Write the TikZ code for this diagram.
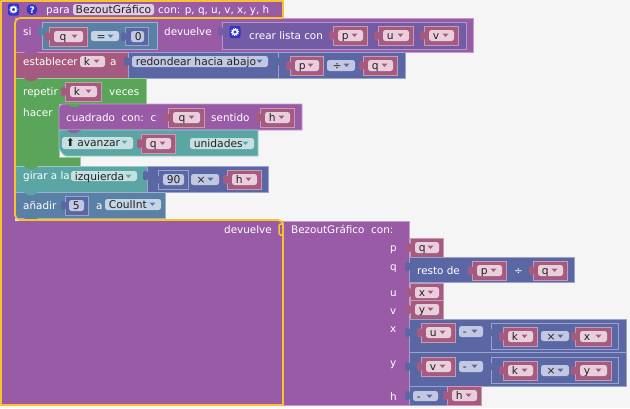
\documentclass[tikz,border=0pt]{standalone}
\usepackage{fontspec}
\setmainfont{DejaVu Sans}
\definecolor{bgc}{HTML}{F5F5F5}
\definecolor{pur}{HTML}{995BA5}\definecolor{purL}{HTML}{C29ACB}\definecolor{purF}{HTML}{E0CDE4}
\definecolor{red}{HTML}{A55B80}\definecolor{redL}{HTML}{CB9AB2}\definecolor{redF}{HTML}{E9CFDB}
\definecolor{tea}{HTML}{5BA5A5}\definecolor{teaL}{HTML}{9ACBCB}\definecolor{teaF}{HTML}{C5E0E0}
\definecolor{blu}{HTML}{5B80A5}\definecolor{bluL}{HTML}{9AB2CB}\definecolor{bluF}{HTML}{C5D5E5}
\definecolor{ind}{HTML}{5B67A5}\definecolor{indL}{HTML}{9AA3CB}\definecolor{indF}{HTML}{C3C8E2}
\definecolor{lis}{HTML}{745BA5}\definecolor{lisL}{HTML}{AB9ACB}
\definecolor{gre}{HTML}{5BA55B}\definecolor{greL}{HTML}{9ACB9A}
\definecolor{yel}{HTML}{F9C32B}
\definecolor{ink}{HTML}{222222}
\definecolor{ico}{HTML}{3232CC}
\newcounter{tn}
\tikzset{lbl/.style={anchor=base west,inner sep=0pt,font=\fontsize{10.4}{13}\selectfont},
 fldtxt/.style={lbl,font=\fontsize{10.7}{13}\selectfont}}
% text: colour x baseline text
\newcommand\lab[4]{\stepcounter{tn}\node[lbl,text=#1] (t\the\value{tn}) at (#2,#3) {#4};}
% block: colour x1 y1 x2 y2
\newcommand\blk[5]{\path[fill=#1,draw=#1L,line width=.8pt] (#2,#3) rectangle (#4,#5);}
% tab: colour x y
\newcommand\tabb[3]{\fill[#1,rounded corners=1.5pt] (#2-4,#3) rectangle (#2+1,#3+9);}
% field with drop-down: tricolour fillcolour x1 y1 x2 y2 text
\newcommand\fldn[6]{\fill[#1,rounded corners=2.5pt] (#2,#3) rectangle (#4,#5);\stepcounter{tn}\node[fldtxt,text=ink] (t\the\value{tn}) at (#2+3.7,#3+9) {#6};}
\newcommand\fld[7]{\fldn{#2}{#3}{#4}{#5}{#6}{#7}\fill[#1] (#5-11.5,#4+3.5) -- (#5-5.5,#4+3.5) -- (#5-8.5,#4+7) -- cycle;}
% variable block: x1 x2 y text
\newcommand\varb[4]{\blk{red}{#1}{#3}{#2}{#3+19}\tabb{red}{#1}{#3+5}\fld{red}{redF}{#1+5}{#3+4}{#2-4}{#3+15}{#4}}
% notch
\newcommand\notch[3]{\fill[#1] (#2,#3) -- (#2+4,#3+3) -- (#2+10,#3+3) -- (#2+14,#3) -- cycle;}
% gear icon
\newcommand\gear[2]{\fill[ico,rounded corners=2pt] (#1-5.5,#2-6) rectangle (#1+5.5,#2+6);
 \draw[white,line width=1.5pt] (#1,#2) circle (2.4pt);
 \draw[white,line width=1.1pt,dash pattern=on 1.1pt off 1.1pt] (#1,#2) circle (3.6pt);}
\begin{document}
\begin{tikzpicture}[x=1pt,y=-1pt]
\useasboundingbox (0,0) rectangle (630,408);
\fill[bgc] (0,0) rectangle (630,408);
% main definition block
\fill[pur] (0,0) -- (283,0) -- (283,18) -- (15,18) -- (15,221) -- (283,221) -- (283,405) -- (0,405) -- cycle;
\gear{13.5}{9.5}
\fill[ico] (32,9.5) circle (5.5pt);
\lab{white}{29.5}{13}{\fontsize{9}{9}\selectfont\bfseries ?}
\lab{white}{46}{13.5}{para}
\fill[purF,rounded corners=2.5pt] (73,4) rectangle (154,15);
\node[fldtxt,text=ink] (title) at (75.5,13.5) {BezoutGráfico};
\lab{white}{158}{13.5}{con: p, q, u, v, x, y, h}
% si
\blk{pur}{15}{18}{473}{52}
\lab{white}{23}{35}{si}
\blk{blu}{42}{22}{157}{49}\tabb{blu}{42}{27}
\varb{49}{87}{27}{\,q}
\fld{blu}{bluF}{91}{31}{119}{41}{\,=}
\blk{ind}{125}{27}{148}{45}\tabb{ind}{125}{32}
\fldn{indF}{131}{31}{144}{42}{0}
\lab{white}{164}{35}{devuelve}
\blk{lis}{222}{22}{466}{49}\tabb{lis}{222}{27}
\gear{235}{32}
\lab{white}{249}{39}{crear lista con}
\varb{333}{367}{26}{p}
\varb{378}{413}{26}{u}
\varb{424}{458}{26}{v}
% establecer
\blk{red}{15}{52}{128}{78}
\notch{pur}{24}{52}
\lab{white}{23}{65}{establecer}
\fld{red}{redF}{80}{56}{105}{67}{k}
\lab{white}{110}{65}{a}
\blk{ind}{128}{52}{405}{78}\tabb{ind}{128}{57}
\fld{ind}{indF}{132}{56}{268}{67}{redondear hacia abajo}
\blk{ind}{278}{52}{405}{78}\tabb{ind}{278}{57}
\varb{290}{323}{56}{p}
\fld{ind}{indF}{327}{60}{355}{71}{\,÷}
\varb{363}{397}{56}{q}
% repetir
\path[fill=gre,draw=greL,line width=.8pt] (15,78) -- (146,78) -- (146,104) -- (59,104) -- (59,157) -- (80,157) -- (80,166) -- (15,166) -- cycle;
\notch{red}{24}{78}
\lab{white}{23}{95}{repetir}
\varb{65}{101}{82}{k}
\lab{white}{109}{95}{veces}
\lab{white}{23}{116}{hacer}
% cuadrado
\path[fill=pur,draw=purL,line width=.8pt] (59,130) -- (59,108) to[out=90,in=180] (63,104) -- (302,104) -- (302,130) -- cycle;
\notch{gre}{67}{104}
\lab{white}{66}{121}{cuadrado\ \ con:\ \ c}
\varb{168}{204}{108}{\,q}
\lab{white}{211}{121}{sentido}
\varb{260}{294}{108}{h}
% avanzar
\path[fill=tea,draw=teaL,line width=.8pt] (59,130) -- (258,130) -- (258,156) -- (66,156) to[out=180,in=90] (59,150) -- cycle;
\notch{pur}{67}{130}
\fld{tea}{teaF}{62}{137}{133}{149}{⬆\kern-1pt\ avanzar}
\varb{141}{175}{134}{q}
\fld{tea}{teaF}{190}{138}{254}{149}{unidades}
% girar
\blk{tea}{15}{166}{147}{192}
\notch{gre}{24}{166}
\lab{white}{23}{179}{girar a la}
\fld{tea}{teaF}{71}{171}{137}{181}{izquierda}
\blk{ind}{147}{166}{268}{192}\tabb{ind}{147}{171}
\blk{ind}{158}{170}{188}{189}\tabb{ind}{158}{175}
\fldn{indF}{163}{174}{184}{185}{90}
\fld{ind}{indF}{191}{174}{219}{185}{\,×}
\varb{227}{261}{170}{h}
% anadir
\path[fill=blu,draw=bluL,line width=.8pt] (15,192) -- (165,192) -- (165,218) -- (15,218) -- cycle;
\notch{tea}{24}{192}
\lab{white}{23}{209}{añadir}
\blk{ind}{65}{196}{88}{215}\tabb{ind}{65}{201}
\fldn{indF}{69}{200}{84}{211}{5}
\lab{white}{96}{209}{a}
\fld{blu}{bluF}{105}{199}{161}{210}{CoulInt}
\notch{blu}{24}{218}
% return
\lab{white}{224}{233}{devuelve}
% call block
\blk{pur}{283}{221}{409}{405}
\lab{white}{291}{233}{BezoutGráfico\ \ con:}
\lab{white}{390}{251}{p}
\lab{white}{390}{270}{q}
\lab{white}{390}{296}{u}
\lab{white}{390}{314}{v}
\lab{white}{390}{332}{x}
\lab{white}{390}{366}{y}
\lab{white}{390}{400}{h}
\varb{410}{443}{238}{q}
\blk{ind}{409}{257}{574}{282}\tabb{ind}{409}{262}
\lab{white}{417}{274}{resto de}
\varb{472}{506}{261}{p}
\lab{white}{514}{274}{÷}
\varb{533}{567}{261}{q}
\varb{410}{443}{283}{x}
\varb{410}{443}{300}{y}
% x
\blk{ind}{409}{319}{626}{352}\tabb{ind}{409}{328}
\varb{421}{455}{323}{u}
\fld{ind}{indF}{459}{326}{483}{337}{-}
\blk{ind}{491}{323}{618}{349}\tabb{ind}{491}{328}
\varb{503}{537}{327}{k}
\fld{ind}{indF}{541}{331}{569}{341}{\,×}
\varb{575}{611}{327}{x}
% y
\blk{ind}{409}{352}{626}{386}\tabb{ind}{409}{362}
\varb{421}{455}{357}{v}
\fld{ind}{indF}{459}{361}{483}{372}{-}
\blk{ind}{491}{357}{618}{383}\tabb{ind}{491}{362}
\varb{503}{537}{361}{k}
\fld{ind}{indF}{541}{365}{569}{376}{\,×}
\varb{575}{611}{361}{y}
% h
\blk{ind}{409}{386}{447}{405}\tabb{ind}{409}{391}
\fld{ind}{indF}{413}{391}{438}{401}{-}
\varb{447}{481}{386}{h}
% highlight
\draw[yel,line width=1.8pt,line join=round] (1,1) -- (283,1) -- (283,12) -- (283,18) [rounded corners=5pt] -- (15,18) -- (15,220) -- (283,220) [sharp corners] -- (283,405) -- (1,405) -- cycle;
\draw[yel,line width=1.5pt,rounded corners=1.5pt] (283,224) -- (279,224) -- (279,235) -- (283,235);
\end{tikzpicture}
\end{document}
